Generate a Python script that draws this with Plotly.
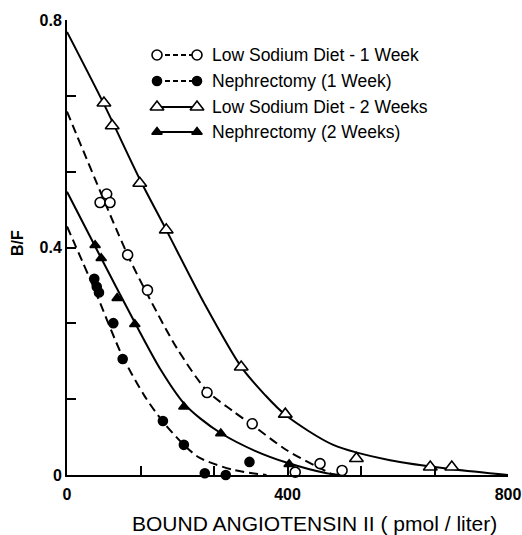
import plotly.graph_objects as go

# ---- data ----
ls1_x = [60, 72, 78, 110, 146, 254, 336, 414, 459, 499]
ls1_y = [0.479, 0.494, 0.479, 0.387, 0.325, 0.145, 0.090, 0.005, 0.020, 0.008]

neph1_x = [49.5, 54, 58, 84, 101, 174, 212, 250, 288, 331]
neph1_y = [0.345, 0.331, 0.321, 0.267, 0.204, 0.095, 0.053, 0.003, 0.0, 0.023]

ls2_x = [67, 82, 132, 180, 316, 396, 525, 659, 698]
ls2_y = [0.654, 0.614, 0.513, 0.431, 0.190, 0.107, 0.029, 0.014, 0.014]

neph2_x = [51, 62, 91, 123, 212, 279, 403]
neph2_y = [0.404, 0.381, 0.311, 0.265, 0.120, 0.073, 0.019]

# fitted curves
ls1_fit_x = [0, 110, 150, 200, 254, 300, 336, 398, 453, 483]
ls1_fit_y = [0.639, 0.387, 0.31, 0.222, 0.148, 0.113, 0.088, 0.044, 0.015, 0.0]

neph1_fit_x = [0, 50, 100, 140, 173, 212, 241, 302, 362]
neph1_fit_y = [0.437, 0.326, 0.21, 0.14, 0.095, 0.053, 0.03, 0.009, 0.0]

ls2_fit_x = [0, 67, 132, 180, 250, 316, 359, 397, 483, 586, 700, 800]
ls2_fit_y = [0.779, 0.652, 0.52, 0.431, 0.30, 0.190, 0.141, 0.105, 0.053, 0.026, 0.01, 0.0]

neph2_fit_x = [0, 60, 123, 170, 212, 241, 280, 340, 401, 471, 495]
neph2_fit_y = [0.498, 0.385, 0.268, 0.185, 0.126, 0.1, 0.073, 0.043, 0.021, 0.003, 0.0]

series_names = ["Low Sodium Diet - 1 Week", "Nephrectomy (1 Week)",
                "Low Sodium Diet - 2 Weeks", "Nephrectomy (2 Weeks)"]

x_tickvals = [0, 800/6, 1600/6, 400, 3200/6, 4000/6, 800]
x_ticktext = ["<b>0</b>", "", "", "<b>400</b>", "", "", "<b>800</b>"]
y_tickvals = [0, 0.8/6, 1.6/6, 0.4, 3.2/6, 4.0/6, 0.8]
y_ticktext = ["<b>0</b>", "", "", "<b>0.4</b>", "", "", "<b>0.8</b>"]

FONT = "Liberation Sans, Arial, Helvetica, sans-serif"
DASH = "9px,5px"

styles = [
    dict(dash=DASH, symbol="circle", fill="white", size=10),
    dict(dash=DASH, symbol="circle", fill="black", size=9),
    dict(dash="solid", symbol="triangle-up", fill="white", size=12),
    dict(dash="solid", symbol="triangle-up", fill="black", size=9),
]

fits = [(ls1_fit_x, ls1_fit_y), (neph1_fit_x, neph1_fit_y),
        (ls2_fit_x, ls2_fit_y), (neph2_fit_x, neph2_fit_y)]
pts = [(ls1_x, ls1_y), (neph1_x, neph1_y), (ls2_x, ls2_y), (neph2_x, neph2_y)]

fig = go.Figure()

for (fx, fy), st in zip(fits, styles):
    fig.add_trace(go.Scatter(
        x=fx, y=fy, mode="lines",
        line=dict(color="black", width=2, dash=st["dash"], shape="spline", smoothing=0.8),
        cliponaxis=False, showlegend=False, hoverinfo="skip"))

for (px, py), st, name in zip(pts, styles, series_names):
    fig.add_trace(go.Scatter(
        x=px, y=py, mode="markers", name=name,
        marker=dict(symbol=st["symbol"], size=st["size"], color=st["fill"],
                    line=dict(color="black", width=1.6)),
        cliponaxis=False, showlegend=False))

# ---- custom legend (pixel-like overlay axes) ----
leg_rows = [55, 81, 107, 132]
leg_x0, leg_x1, leg_text_x = 157, 197, 210
for row, st, name in zip(leg_rows, styles, series_names):
    fig.add_trace(go.Scatter(
        x=[leg_x0, leg_x1], y=[row, row], mode="lines+markers",
        xaxis="x2", yaxis="y2",
        line=dict(color="black", width=2, dash="5px,3px" if st["dash"] != "solid" else "solid"),
        marker=dict(symbol=st["symbol"], size=st["size"], color=st["fill"],
                    line=dict(color="black", width=1.6)),
        cliponaxis=False, showlegend=False, hoverinfo="skip"))
    fig.add_annotation(x=leg_text_x, y=row, xref="x2", yref="y2", text=name,
                       showarrow=False, xanchor="left", yanchor="middle",
                       font=dict(family=FONT, size=17.5, color="black"))

axis_common = dict(showgrid=False, zeroline=False, showline=True, linecolor="black",
                   linewidth=2, ticks="inside", ticklen=9, tickwidth=1.5, tickcolor="black",
                   tickfont=dict(family=FONT, size=16, color="black"), mirror=False,
                   ticklabeloverflow="allow", automargin=False)

fig.update_layout(
    width=522, height=535,
    margin=dict(l=67, r=14, t=20, b=60, autoexpand=False),
    paper_bgcolor="white", plot_bgcolor="white",
    font=dict(family=FONT, color="black"),
    xaxis=dict(range=[0, 800], tickmode="array", tickvals=x_tickvals, ticktext=x_ticktext,
               ticklabelstandoff=4, **axis_common),
    yaxis=dict(range=[0, 0.8], tickmode="array", tickvals=y_tickvals, ticktext=y_ticktext,
               **axis_common),
    xaxis2=dict(range=[67, 508], overlaying="x", visible=False, fixedrange=True,
                automargin=False),
    yaxis2=dict(range=[475, 20], overlaying="y", visible=False, fixedrange=True,
                automargin=False),
    showlegend=False,
)

fig.add_annotation(text="<b>B/F</b>", xref="paper", yref="paper", x=-0.111, y=0.51,
                   xanchor="center", yanchor="middle",
                   textangle=-90, showarrow=False, font=dict(family=FONT, size=16))
fig.add_annotation(text="BOUND ANGIOTENSIN II ( pmol / liter)", xref="paper", yref="paper",
                   x=0.562, y=-0.1055, showarrow=False, xanchor="center", yanchor="middle",
                   font=dict(family=FONT, size=21))

# remove the page's default 8px body margin so the figure fills the window exactly
fig.write_html("out.html",
               config={"displayModeBar": False},
               post_script="document.body.style.margin='0';"
                           "document.documentElement.style.overflow='hidden';")
